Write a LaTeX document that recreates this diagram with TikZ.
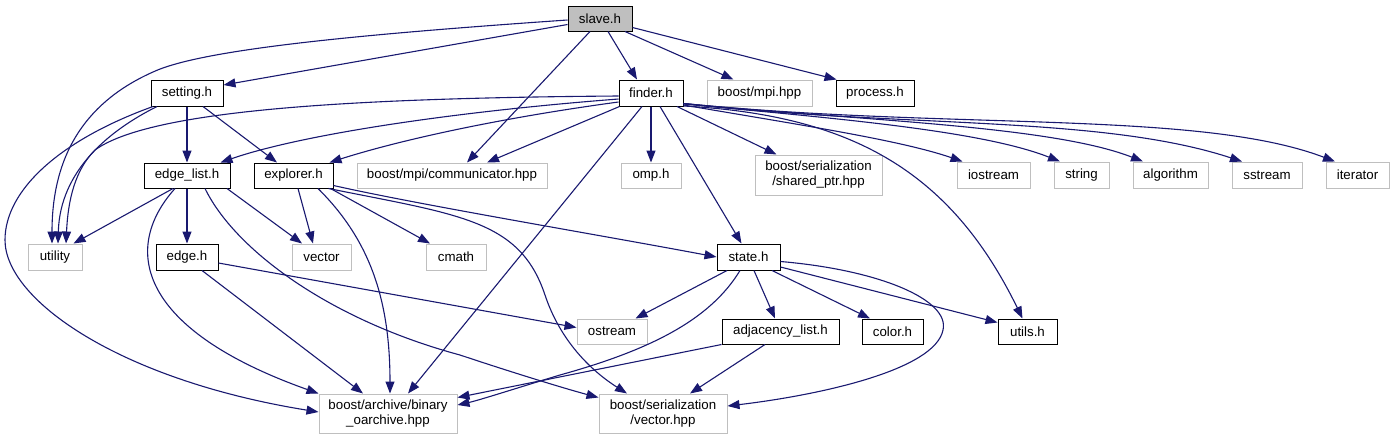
\documentclass[tikz,border=0pt]{standalone}
\usepackage{fontspec}
\setmainfont{Liberation Sans}
\usetikzlibrary{arrows.meta,calc}
\definecolor{edgec}{HTML}{191970}
\definecolor{grayb}{HTML}{BFBFBF}
\begin{document}
\begin{tikzpicture}[x=1pt,y=-1pt,
  box/.style={draw=black, line width=1pt, fill=white, inner sep=0pt, minimum height=26pt, align=center, font=\fontsize{13.3}{15}\selectfont},
  ext/.style={box, draw=grayb},
  e/.style={draw=edgec, line width=1.1pt, -{Triangle[length=12pt,width=9pt]}}]
\useasboundingbox (0,0) rectangle (1395,440);
% nodes
\node[box, fill=grayb, minimum width=64pt, minimum height=25pt] (slave) at (600,18.5) {slave.h};
\node[box, minimum width=72pt] (setting) at (187,93) {setting.h};
\node[box, minimum width=64pt] (finder) at (651,93) {finder.h};
\node[ext, minimum width=105pt] (mpi) at (759.5,93) {boost/mpi.hpp};
\node[box, minimum width=78pt] (process) at (875,93) {process.h};
\node[box, minimum width=86pt, minimum height=25pt] (edgelist) at (187,175.5) {edge\_list.h};
\node[box, minimum width=79pt, minimum height=25pt] (explorer) at (293.5,175.5) {explorer.h};
\node[ext, minimum width=190pt, minimum height=25pt] (comm) at (452,175.5) {boost/mpi/communicator.hpp};
\node[ext, minimum width=60pt, minimum height=25pt] (omp) at (651,175.5) {omp.h};
\node[ext, minimum width=127pt, minimum height=40pt] (shared) at (818.5,175) {boost/serialization\\/shared\_ptr.hpp};
\node[ext, minimum width=73pt] (iostream) at (993.5,175) {iostream};
\node[ext, minimum width=55pt] (string) at (1081.5,175) {string};
\node[ext, minimum width=75pt] (algorithm) at (1170.5,175) {algorithm};
\node[ext, minimum width=70pt] (sstream) at (1267,175) {sstream};
\node[ext, minimum width=63pt] (iterator) at (1357.5,175) {iterator};
\node[ext, minimum width=54pt] (utility) at (55,257) {utility};
\node[box, minimum width=62pt] (edge) at (187,257) {edge.h};
\node[ext, minimum width=59pt] (vector) at (321.5,257) {vector};
\node[ext, minimum width=60pt] (cmath) at (456,257) {cmath};
\node[box, minimum width=63pt] (state) at (748.5,257) {state.h};
\node[ext, minimum width=70pt, minimum height=25pt] (ostream) at (612,331.5) {ostream};
\node[box, minimum width=117pt, minimum height=25pt] (adj) at (780.5,331.5) {adjacency\_list.h};
\node[box, minimum width=61pt, minimum height=25pt] (color) at (892.5,331.5) {color.h};
\node[box, minimum width=59pt, minimum height=25pt] (utils) at (1027.5,331.5) {utils.h};
\node[ext, minimum width=138pt, minimum height=39pt] (binary) at (388,413.5) {boost/archive/binary\\\_oarchive.hpp};
\node[ext, minimum width=128pt, minimum height=39pt] (servec) at (663,413.5) {boost/serialization\\/vector.hpp};
% edges from slave.h
\draw[e] ($(slave.west)+(0,1.5)$) .. controls (350,35) and (200,50) .. (153,72) .. controls (90,100) and (52,150) .. ($(utility.north)+(-3,0)$);
\draw[e] ($(slave.west)+(0,6)$) -- ($(setting.east)+(0,-8)$);
\draw[e] ($(slave.south)+(-10,0)$) -- ($(comm.north)+(15,0)$);
\draw[e] ($(slave.south)+(8,0)$) -- ($(finder.north)+(-14,0)$);
\draw[e] ($(slave.south)+(25,0)$) -- ($(mpi.north)+(-26,0)$);
\draw[e] ($(slave.east)+(0,9)$) -- ($(process.north west)+(1,0)$);
% edges from setting.h
\draw[e] ($(setting.south)+(-30,0)$) .. controls (110,130) and (60,170) .. ($(utility.north)+(3,0)$);
\draw[e] ($(setting.south)+(-34,0)$) .. controls (60,140) and (5,190) .. (5,240) .. controls (5,300) and (120,380) .. ($(binary.west)+(0,-1.5)$);
\draw[e] (setting.south) -- (edgelist.north);
\draw[e] ($(setting.south)+(16,0)$) -- ($(explorer.north)+(-16.5,0)$);
% edges from finder.h
\draw[e] ($(finder.west)+(0,3)$) .. controls (350,98) and (150,110) .. (95,150) .. controls (75,170) and (68,200) .. ($(utility.north)+(11,0)$);
\draw[e] ($(finder.west)+(0,6)$) .. controls (450,112) and (300,135) .. ($(edgelist.north east)+(-10,0)$);
\draw[e] ($(finder.west)+(0,9)$) .. controls (500,118) and (400,140) .. ($(explorer.north)+(36,0)$);
\draw[e] ($(finder.south west)+(1,0)$) -- ($(comm.north)+(35,0)$);
\draw[e] (finder.south) -- (omp.north);
\draw[e] ($(finder.south)+(26,0)$) -- ($(shared.north)+(-42,0)$);
\draw[e] ($(finder.south)+(-9,0)$) -- ($(binary.north)+(20,0)$);
\draw[e] ($(finder.south)+(9,0)$) -- ($(state.north)+(-7,0)$);
\draw[e] ($(finder.east)+(0,13)$) .. controls (850,115) and (950,170) .. ($(utils.north)+(-5,0)$);
\draw[e] ($(finder.east)+(0,12)$) .. controls (800,125) and (900,140) .. ($(iostream.north west)+(6,0)$);
\draw[e] ($(finder.east)+(0,11)$) .. controls (830,118) and (980,130) .. ($(string.north)+(-21.5,0)$);
\draw[e] ($(finder.east)+(0,10.5)$) .. controls (850,120) and (1050,125) .. ($(algorithm.north)+(-27.5,0)$);
\draw[e] ($(finder.east)+(0,10.5)$) .. controls (900,128) and (1100,115) .. ($(sstream.north)+(-25,0)$);
\draw[e] ($(finder.east)+(0,10.5)$) .. controls (950,130) and (1200,110) .. ($(iterator.north)+(-22.5,0)$);
% edges from edge_list.h
\draw[e] ($(edgelist.south)+(-14,0)$) -- ($(utility.north east)+(-9,0)$);
\draw[e] ($(edgelist.south)+(-12,0)$) .. controls (120,250) and (140,330) .. ($(binary.west)+(0,-20)$);
\draw[e] (edgelist.south) -- (edge.north);
\draw[e] ($(edgelist.south)+(18,0)$) .. controls (235,250) and (330,320) .. (460,355) .. controls (520,375) and (570,390) .. ($(servec.north west)+(0,4)$);
\draw[e] ($(edgelist.south)+(40,0)$) -- ($(vector.north)+(-19.5,0)$);
% edges from edge.h
\draw[e] ($(edge.south)+(15,0)$) -- ($(binary.north)+(-25,0)$);
\draw[e] ($(edge.east)+(0,6)$) -- ($(ostream.west)+(0,-4)$);
% edges from explorer.h
\draw[e] ($(explorer.south)+(4.5,0)$) -- ($(vector.north)+(-8.5,0)$);
\draw[e] ($(explorer.south)+(24.5,0)$) .. controls (370,240) and (390,300) .. ($(binary.north)+(2,0)$);
\draw[e] ($(explorer.south east)+(-3,0)$) -- ($(cmath.north)+(-26,0)$);
\draw[e] ($(explorer.east)+(0,10)$) .. controls (420,205) and (600,235) .. (state.west);
\draw[e] ($(explorer.south east)+(-5,0)$) .. controls (460,215) and (520,220) .. (545,295) .. controls (560,340) and (590,370) .. ($(servec.north)+(-36,0)$);
% edges from state.h
\draw[e] ($(state.south)+(-21.5,0)$) -- ($(ostream.north east)+(-12,0)$);
\draw[e] ($(state.south)+(-8.5,0)$) .. controls (710,320) and (650,350) .. (560,375) .. controls (520,387) and (480,400) .. ($(binary.east)+(0,-8.5)$);
\draw[e] ($(state.south)+(5.5,0)$) -- ($(adj.north)+(-5.5,0)$);
\draw[e] ($(state.south)+(23.5,0)$) -- ($(color.north)+(-22.5,0)$);
\draw[e] ($(state.east)+(0,10)$) -- ($(utils.west)+(0,-9)$);
\draw[e] ($(state.east)+(0,4.5)$) .. controls (880,270) and (950,300) .. (943,330) .. controls (935,370) and (820,395) .. ($(servec.east)+(0,-7.5)$);
% edges from adjacency_list.h
\draw[e] (adj.south west) -- ($(binary.east)+(0,-16)$);
\draw[e] ($(adj.south)+(-15.5,0)$) -- ($(servec.north)+(27,0)$);
\end{tikzpicture}
\end{document}
